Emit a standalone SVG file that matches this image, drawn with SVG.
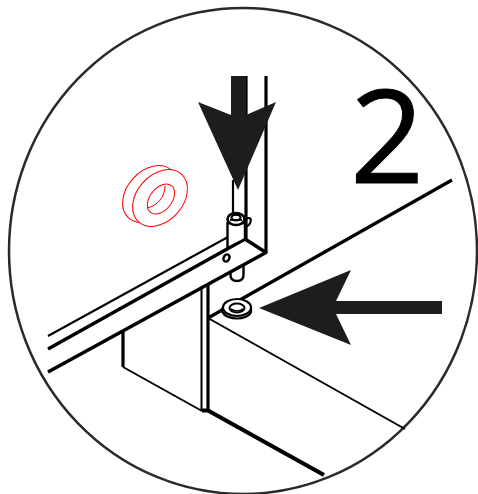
<svg xmlns="http://www.w3.org/2000/svg" width="478" height="494" viewBox="0 0 478 494">
<style>
.k{fill:none;stroke:#000;stroke-linecap:butt;stroke-linejoin:round}
.r{fill:#fff;stroke:#f00;stroke-width:1}
.w{fill:#fff;stroke:#000}
.a{fill:#1d1d1b;stroke:none}
</style>
<rect width="478" height="494" fill="#fff"/>
<ellipse id="frame" cx="243" cy="251" rx="234" ry="243" fill="none" stroke="#2b2a29" stroke-width="2.500"/>
<g id="box">
<path class="k" stroke-width="2" d="M201.500 289V411M123 367L202 411"/>
<path class="k" stroke-width="3.200" d="M208 284V411M123 332V367M208 318L452 180"/>
<path class="k" stroke-width="2" d="M208 318L405 429"/>
<path class="k" stroke-width="4.200" d="M202 410.500H208L324 475"/>
</g>
<g id="rail">
<path class="k" stroke-width="2" d="M48 336L228 237"/>
<path class="k" stroke-width="3.500" d="M48 349L245 239M48 372L266 252.500L245 239"/>
<path class="k" stroke-width="3.200" d="M266 76V252M246 76V239"/>
<path class="k" stroke-width="2.200" d="M233 180V214"/>
<ellipse cx="226.500" cy="258" rx="2.800" ry="3.800" transform="rotate(30 226.500 258)" class="k" stroke-width="2.500"/>
</g>
<g id="pin">
<path class="k" stroke-width="2.400" d="M230.500 271V275Q230.500 281 237 281Q243.500 281 243.500 275V264"/>
<path class="w" stroke-width="2.400" d="M227.500 223V248L245 239V223Z"/>
<path class="k" stroke-width="2.200" d="M245 219Q252 216 250.500 222Q249 227 244 226"/>
<ellipse class="w" stroke-width="2.600" cx="236" cy="219" rx="8.500" ry="6"/>
<ellipse class="k" stroke-width="2.200" cx="236" cy="217.500" rx="4.500" ry="2.800"/>
<path class="k" stroke-width="1.800" d="M230 220H242"/>
</g>
<g id="washer">
<path class="w" stroke-width="2.200" d="M222.500 308V312C224 316 231 318.500 237 318.500C243 318.500 250 316 251 312V308Z"/>
<ellipse class="w" stroke-width="2.200" cx="237" cy="307.500" rx="14" ry="8.500"/>
<ellipse class="k" stroke-width="2" cx="237" cy="308" rx="7.500" ry="4.500"/>
<path class="k" stroke-width="1.600" d="M231 309Q237 313 243 309"/>
</g>
<g id="red-washer">
<ellipse class="r" cx="150" cy="194" rx="32" ry="23" transform="rotate(-48 150 194)"/>
<ellipse class="r" cx="160" cy="198" rx="32" ry="23" transform="rotate(-48 160 198)"/>
<ellipse class="r" cx="161" cy="199" rx="17" ry="11" transform="rotate(-52 161 199)"/>
<path class="r" style="fill:none" d="M147 208C157 206 165 197 165 186"/>
</g>
<g id="arrows">
<path id="arrow-down" class="a" d="M231 76H246V115L276 102L238 190L198 102L231 115Z"/>
<path id="arrow-left" class="a" d="M442 301V314H336L351 345L259 308L351 270L336 301Z"/>
</g>
<text id="step" x="350" y="183" font-family="'Open Sans',sans-serif" font-size="130" fill="#000" stroke="#000" stroke-width="1">2</text>
</svg>
